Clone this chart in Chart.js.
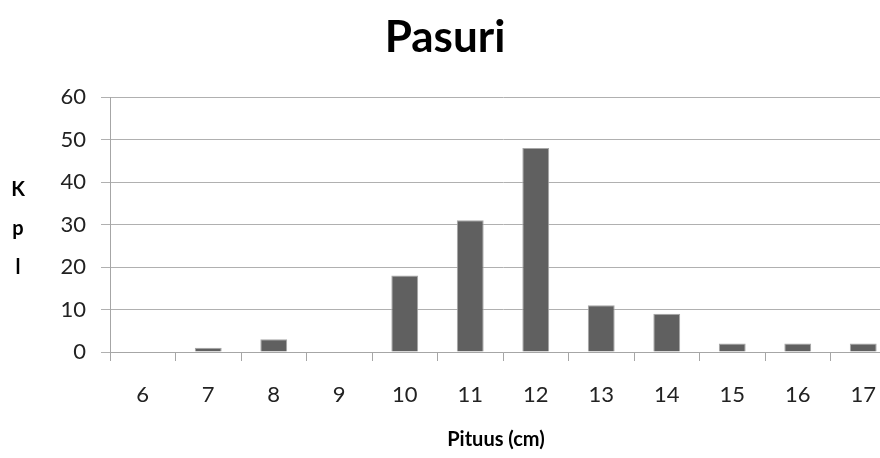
<!DOCTYPE html>
<html>
<head>
<meta charset="utf-8">
<script src="https://cdn.jsdelivr.net/npm/chart.js@4/dist/chart.umd.min.js"></script>
<style>
  html, body { margin: 0; padding: 0; background: #fff; overflow: hidden; }
  #wrap { width: 900px; height: 458px; position: relative; }
</style>
</head>
<body>
<div id="wrap"><canvas id="c"></canvas></div>
<script>
// Length classes (cm) and fish counts per class
const categories = ['6', '7', '8', '9', '10', '11', '12', '13', '14', '15', '16', '17'];
const counts = [0, 1, 3, 0, 18, 31, 48, 11, 9, 2, 2, 2];
const yTicks = [0, 10, 20, 30, 40, 50, 60];

const chartTitle = 'Pasuri';
const yTitleLines = ['K', 'p', 'l'];
const xTitle = 'Pituus (cm)';

const FONT = 'Lato, "Open Sans", sans-serif';

// Title and axis captions drawn straight onto the canvas
const captions = {
  id: 'captions',
  afterDraw(chart) {
    const ctx = chart.ctx;
    ctx.save();
    ctx.fillStyle = '#000';
    ctx.textAlign = 'center';
    ctx.textBaseline = 'middle';
    ctx.font = 'bold 44px ' + FONT;
    ctx.fillText(chartTitle, 445, 38);
    ctx.font = 'bold 20px ' + FONT;
    yTitleLines.forEach((t, i) => ctx.fillText(t, 18, 190 + i * 39));
    ctx.fillText(xTitle, 496, 440);
    ctx.restore();
  }
};

new Chart(document.getElementById('c'), {
  type: 'bar',
  data: {
    labels: categories,
    datasets: [{
      data: counts,
      backgroundColor: '#606060',
      borderColor: '#a6a6a6',
      borderWidth: 1,
      barPercentage: 0.41,
      categoryPercentage: 1.0
    }]
  },
  options: {
    responsive: true,
    maintainAspectRatio: false,
    animation: false,
    events: [],
    layout: { padding: { left: 0, right: 4, top: 97, bottom: 0 } },
    plugins: {
      legend: { display: false },
      title: { display: false },
      tooltip: { enabled: false }
    },
    scales: {
      x: {
        offset: true,
        grid: {
          offset: true,
          drawOnChartArea: false,
          drawTicks: true,
          tickLength: 9,
          color: '#a6a6a6',
          lineWidth: 1
        },
        border: { color: '#a6a6a6', width: 1 },
        ticks: {
          color: '#222',
          font: { family: FONT, size: 22 },
          padding: 21,
          maxRotation: 0,
          autoSkip: false
        },
        afterFit(scale) { scale.height = 106; }
      },
      y: {
        min: 0,
        max: 60,
        afterBuildTicks(scale) { scale.ticks = yTicks.map(v => ({ value: v })); },
        grid: {
          color: '#b0b0b0',
          lineWidth: 1,
          tickLength: 9
        },
        border: { color: '#a6a6a6', width: 1 },
        ticks: {
          color: '#222',
          font: { family: FONT, size: 22 },
          padding: 15
        },
        afterFit(scale) { scale.width = 110; }
      }
    }
  },
  plugins: [captions]
});
</script>
</body>
</html>
